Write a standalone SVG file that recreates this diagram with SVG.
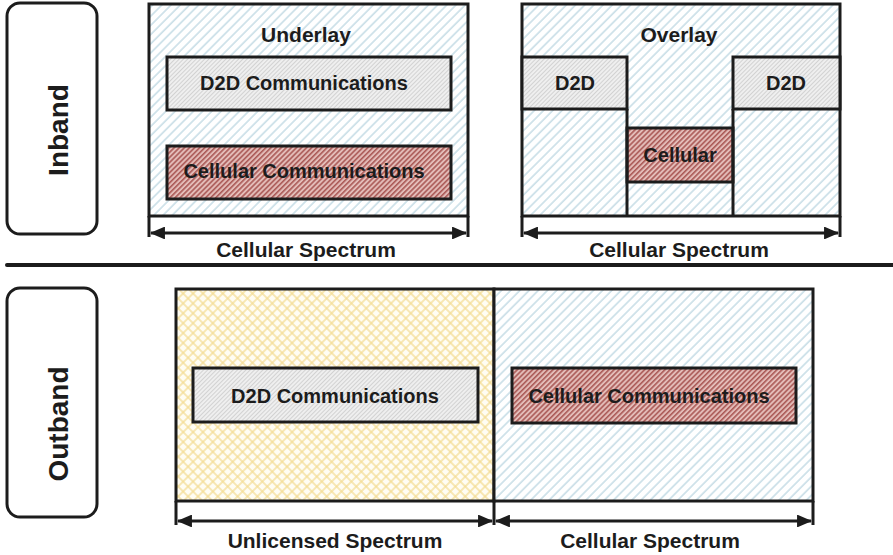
<svg xmlns="http://www.w3.org/2000/svg" width="893" height="555" viewBox="0 0 893 555">
  <style>
    text { font-family: "Liberation Sans", Arial, sans-serif; font-weight: bold; fill: #1c1c1c; text-anchor: middle; }
    .title { font-size: 21px; }
    .lbl { font-size: 20px; }
    .side { font-size: 28px; }
    .box { stroke: #1c1c1c; stroke-width: 3; }
    .ln { stroke: #1c1c1c; stroke-width: 3; fill: none; }
    .dim { stroke: #1c1c1c; stroke-width: 3; fill: none; marker-start: url(#head); marker-end: url(#head); }
  </style>
  <defs>
    <!-- spectrum band: light blue diagonal hatch -->
    <pattern id="blueHatch" patternUnits="userSpaceOnUse" width="6.5" height="6.5" patternTransform="rotate(45)">
      <rect width="6.5" height="6.5" fill="#ffffff"/>
      <line x1="1" y1="0" x2="1" y2="6.5" stroke="#c9dee7" stroke-width="1.6"/>
    </pattern>
    <!-- D2D blocks: fine grey hatch -->
    <pattern id="greyHatch" patternUnits="userSpaceOnUse" width="3" height="3" patternTransform="rotate(45)">
      <rect width="3" height="3" fill="#efefef"/>
      <line x1="0.5" y1="0" x2="0.5" y2="3" stroke="#d2d2d2" stroke-width="1"/>
    </pattern>
    <!-- cellular blocks: red hatch -->
    <pattern id="redHatch" patternUnits="userSpaceOnUse" width="3.6" height="3.6" patternTransform="rotate(45)">
      <rect width="3.6" height="3.6" fill="#e3bcb8"/>
      <line x1="0.8" y1="0" x2="0.8" y2="3.6" stroke="#ab5a57" stroke-width="1.6"/>
    </pattern>
    <!-- unlicensed band: yellow cross hatch -->
    <pattern id="yellowCross" patternUnits="userSpaceOnUse" width="7" height="7" patternTransform="rotate(45)">
      <rect width="7" height="7" fill="#fffdf3"/>
      <line x1="1" y1="0" x2="1" y2="7" stroke="#f4dc92" stroke-width="1.3"/>
      <line x1="0" y1="1" x2="7" y2="1" stroke="#f4dc92" stroke-width="1.3"/>
    </pattern>
    <marker id="head" viewBox="0 0 14 12" refX="13" refY="6" markerWidth="5" markerHeight="4.3" markerUnits="strokeWidth" orient="auto-start-reverse">
      <path d="M0,0 L14,6 L0,12 Z" fill="#1c1c1c"/>
    </marker>
  </defs>

  <!-- row labels -->
  <g id="inband">
    <rect x="7" y="3" width="90" height="231" rx="13" fill="#ffffff" class="box"/>
    <text class="side" transform="translate(68,130) rotate(-90)">Inband</text>
  </g>
  <g id="outband">
    <rect x="7" y="288" width="90" height="229" rx="13" fill="#ffffff" class="box"/>
    <text class="side" transform="translate(68,424) rotate(-90)">Outband</text>
  </g>

  <!-- separator between inband and outband -->
  <line x1="7" y1="265" x2="893" y2="265" stroke="#1c1c1c" stroke-width="4" stroke-linecap="round"/>

  <!-- underlay -->
  <g id="underlay">
    <rect x="149" y="4" width="319" height="212" fill="url(#blueHatch)" class="box"/>
    <text class="title" x="306" y="42">Underlay</text>
    <g id="underlay-d2d">
      <rect x="167" y="57" width="284" height="53" fill="url(#greyHatch)" class="box"/>
      <text class="lbl" x="304" y="90">D2D Communications</text>
    </g>
    <g id="underlay-cellular">
      <rect x="167" y="146" width="284" height="53" fill="url(#redHatch)" class="box"/>
      <text class="lbl" x="304" y="178">Cellular Communications</text>
    </g>
  </g>

  <!-- overlay -->
  <g id="overlay">
    <rect x="522" y="4" width="318" height="212" fill="url(#blueHatch)" class="box"/>
    <text class="title" x="679" y="42">Overlay</text>
    <g id="overlay-d2d-left">
      <rect x="522" y="57" width="105" height="52" fill="url(#greyHatch)" class="box"/>
      <text class="lbl" x="575" y="90">D2D</text>
    </g>
    <g id="overlay-d2d-right">
      <rect x="733" y="57" width="107" height="52" fill="url(#greyHatch)" class="box"/>
      <text class="lbl" x="786" y="90">D2D</text>
    </g>
    <g id="overlay-cellular">
      <rect x="627" y="128" width="106" height="54" fill="url(#redHatch)" class="box"/>
      <text class="lbl" x="680" y="162">Cellular</text>
    </g>
    <line x1="627" y1="109" x2="627" y2="216" class="ln"/>
    <line x1="733" y1="109" x2="733" y2="216" class="ln"/>
  </g>

  <!-- outband spectra -->
  <g id="unlicensed">
    <rect x="176" y="289" width="318" height="212" fill="url(#yellowCross)" class="box"/>
    <g id="outband-d2d">
      <rect x="193" y="368" width="285" height="54" fill="url(#greyHatch)" class="box"/>
      <text class="lbl" x="335" y="403">D2D Communications</text>
    </g>
  </g>
  <g id="cellular-band">
    <rect x="494" y="289" width="319" height="212" fill="url(#blueHatch)" class="box"/>
    <g id="outband-cellular">
      <rect x="512" y="368" width="284" height="55" fill="url(#redHatch)" class="box"/>
      <text class="lbl" x="649" y="403">Cellular Communications</text>
    </g>
  </g>

  <!-- spectrum extent arrows -->
  <g id="connectors">
    <path d="M149,216 V237 M468,216 V237" class="ln"/>
    <line x1="151" y1="233" x2="466" y2="233" class="dim"/>
    <path d="M522,216 V237 M840,216 V237" class="ln"/>
    <line x1="524" y1="233" x2="838" y2="233" class="dim"/>
    <path d="M176,501 V525 M494,501 V525 M813,501 V525" class="ln"/>
    <line x1="178" y1="521" x2="492" y2="521" class="dim"/>
    <line x1="496" y1="521" x2="811" y2="521" class="dim"/>
  </g>

  <!-- spectrum captions -->
  <g id="captions">
    <text class="title" x="306" y="257">Cellular Spectrum</text>
    <text class="title" x="679" y="257">Cellular Spectrum</text>
    <text class="title" x="335" y="548">Unlicensed Spectrum</text>
    <text class="title" x="650" y="548">Cellular Spectrum</text>
  </g>
</svg>
